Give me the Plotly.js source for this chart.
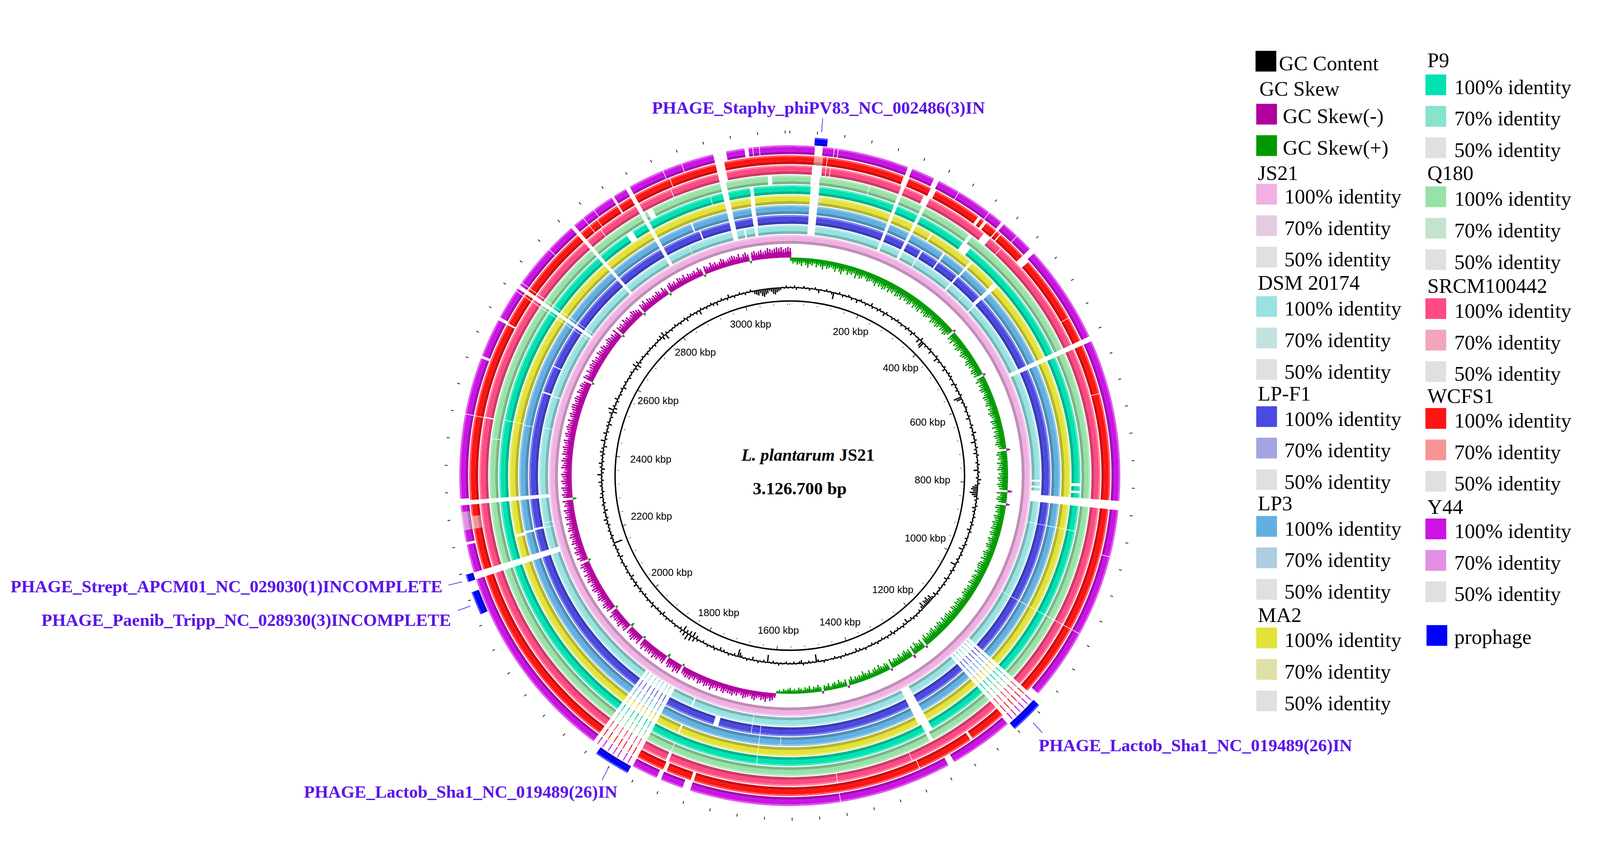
<!DOCTYPE html>
<html><head><meta charset="utf-8">
<script src="https://cdn.plot.ly/plotly-3.0.1.min.js"></script>
<style>html,body{margin:0;padding:0;background:#fff;overflow:hidden}</style>
</head><body><div id="chart"></div>
<script>
// ---------------- DATA ----------------
const GENOME_KBP = 3126.7;
const BIN_KBP = 5;

// GC skew per 5 kbp bin (+ = green, - = purple), relative units
const gcSkew = [
3,5,4,6,5,7,4,6,8,5,6,4,7,5,6,8,5,7,6,5,
6,8,5,7,9,6,5,8,6,7,5,9,6,8,7,5,6,8,7,6,
7,9,6,8,7,9,8,6,9,7,8,6,9,8,7,9,6,8,7,9,
8,6,9,7,8,9,6,8,7,9,8,7,6,9,8,7,9,8,6,8,
7,9,8,6,-2,8,7,9,6,8,7,9,8,6,7,9,8,7,6,8,
9,7,8,6,8,9,7,8,-2,7,9,6,8,7,9,8,6,7,9,8,
7,8,9,6,8,7,9,8,7,6,9,8,7,9,6,8,7,9,8,7,
8,9,7,6,-3,8,9,7,8,6,9,7,8,9,6,8,7,9,8,7,
9,8,7,-4,9,6,8,9,7,-3,8,9,7,8,6,9,8,7,9,8,
8,9,7,9,8,6,9,8,7,9,8,6,7,9,8,7,9,6,8,9,
9,8,7,9,6,8,9,7,8,9,6,8,7,9,8,9,7,6,8,9,
8,9,7,8,9,6,8,7,9,8,7,9,6,8,9,7,8,6,9,8,
7,8,6,9,7,-2,8,6,7,9,5,8,-3,7,6,8,7,5,8,6,
6,7,5,8,-2,6,7,5,6,8,5,7,6,4,7,5,6,8,5,6,
5,6,4,7,5,-2,6,4,5,7,4,6,5,3,6,4,5,-2,4,6,
4,5,3,6,4,5,3,4,5,3,4,3,5,4,3,4,2,3,2,-4,
-6,-7,-5,-8,-6,-7,-5,-6,-8,-7,-5,-6,-7,-8,-6,-5,-7,-6,-8,-7,
-7,-6,-8,-7,-5,-8,-6,-7,-9,-6,-7,-8,-6,-7,-8,-5,-7,-6,-8,-7,
-8,-7,-6,2,-8,-7,-9,-6,-7,-8,-6,3,-8,-7,-6,-8,-7,-9,-6,-8,
-7,-8,-6,-9,-7,2,-8,-6,-7,-9,-8,-6,-7,3,-8,-7,-6,-9,-8,-7,
-8,-7,-9,-6,2,-8,-7,-9,-8,-6,-7,-9,-8,-7,-6,-8,-9,-7,-8,-6,
-9,-8,-7,-9,-6,-8,-7,-9,-8,2,-7,-9,-6,-8,-9,-7,-8,-6,-9,-8,
-7,-9,-8,-6,-9,-8,-7,-9,-6,-8,-9,-7,-8,-9,-6,-8,-7,-9,3,-8,
-9,-7,-8,-9,-6,-8,-9,-7,-8,-9,-7,-6,-9,-8,-7,-9,-8,-6,-9,-8,
-8,-9,-7,-8,-9,-6,-8,-9,-7,-8,-9,-8,-7,-9,-6,-8,-9,-7,-8,-9,
-9,-7,-8,-9,-8,-6,-9,-8,-7,-9,-8,-7,2,-9,-8,-6,-9,-7,-8,-9,
-8,-9,-7,-8,-6,-9,-8,-7,-9,-8,-6,-7,-9,-8,-7,-8,-6,-9,2,-8,
-7,-8,-6,-9,-7,-8,-6,-7,-9,-8,-7,-6,2,-8,-7,-9,-6,-8,-7,-6,
-7,-6,-8,-7,-5,-8,-6,2,-7,-8,-6,-7,-5,-8,-7,-6,-8,-5,-7,-6,
-6,-7,-5,-8,-6,2,-7,-6,-5,-8,-6,-7,-5,-6,-8,-7,-5,-6,-7,-8,
-7,-6,-8,-5,-7,-8,-6,2,-7,-8,-6,-7,-8,-6,-7,-9,-8,-7,-8,-9,
-8,-9,-7,-8,-9,-8];

// GC content deviation per 5 kbp bin (+ outward, - inward), relative units
const gcContent = [
1,-1,2,-2,1,0,-1,2,-1,1,-2,1,0,2,-1,-3,1,0,-1,2,
-1,1,-2,-6,1,-1,2,0,-2,1,-1,2,1,-2,0,1,-3,1,2,-1,
1,-2,1,-1,3,-2,0,1,-2,2,-1,1,-3,2,-1,0,1,-2,1,-1,
2,-1,1,-2,0,1,-2,2,-1,1,-3,2,0,-1,1,-4,3,-5,-6,1,
-2,1,-1,2,-3,1,-1,0,2,-4,1,-2,1,0,-1,2,-3,1,-1,2,
-1,2,-2,1,0,-3,2,-1,1,-2,1,-1,2,-7,-5,1,-2,1,-1,2,
1,-2,1,-1,2,-3,1,0,-1,2,-2,1,-1,3,-2,1,-1,2,-4,1,
-1,2,-2,1,-3,2,-1,0,1,-2,2,-1,1,-4,2,-1,1,-2,3,-1,
2,-3,-5,-6,-4,-7,-5,-3,2,-2,1,-1,2,-3,1,-2,1,-1,2,-1,
1,-2,2,-1,1,-3,2,-1,0,1,-2,1,-1,2,-2,1,-4,1,-1,2,
-1,1,-2,2,-1,-5,1,-1,2,-2,1,-1,0,2,-3,1,-1,2,-1,1,
-2,1,-1,2,-3,1,-2,-5,-3,-6,-4,-5,-2,-6,-3,1,-2,1,-1,2,
-1,2,-2,1,-1,-4,1,-2,2,-1,1,-2,1,-1,2,-3,1,-1,2,-1,
1,-2,1,-1,2,-1,1,-2,1,-1,0,2,-1,1,-2,1,-3,1,-1,1,
-1,1,-2,1,-1,2,-1,1,-2,1,-1,0,1,-1,2,-1,1,-2,-7,1,
-1,1,-2,1,-1,2,-3,-2,-1,1,-2,1,-1,1,-2,-1,1,-1,2,-1,
1,-2,1,-1,-7,1,-2,1,-1,2,-1,1,-3,1,-1,2,-1,1,-2,-4,
-7,1,-2,1,-1,2,-1,1,-2,1,-3,1,-1,2,-2,1,-1,2,-1,1,
-2,1,-1,2,-3,4,-5,5,-4,6,-3,4,-5,3,-2,1,-1,2,-1,1,
-2,1,-1,2,-1,1,-3,2,-1,1,-2,1,-1,3,-2,1,-1,2,-1,1,
-2,1,-1,2,-2,1,-1,3,-2,1,-1,2,-3,1,-1,2,-1,1,-2,1,
-1,2,-1,1,-3,2,-1,1,-2,1,-1,2,-8,1,-1,2,-2,1,-1,2,
-1,1,-2,2,-1,3,-2,1,-1,2,-3,1,-1,2,-2,1,-1,3,-1,2,
-2,1,-1,2,-1,3,-2,1,-1,4,-2,1,-3,2,-1,3,-2,1,-1,2,
-2,3,-1,2,-3,1,-1,4,-2,1,-1,3,-2,1,-1,2,-3,2,-1,1,
-2,1,3,-4,5,-3,2,-1,1,-2,3,-1,1,-2,1,-1,2,-3,1,-1,
2,-1,1,-2,1,-1,2,-1,1,-3,4,-4,3,-2,1,-1,2,-1,1,-2,
1,-1,2,-1,1,-2,1,-1,2,-1,3,-3,4,-5,2,-1,1,-2,1,-1,
2,-1,1,-2,1,-1,2,-3,1,-1,2,-1,1,-2,1,-4,2,-1,1,-2,
1,-1,2,-2,1,-3,1,-1,2,-1,1,-2,3,-1,1,-2,1,-1,2,-1,
1,-2,1,-1,2,-1,-3,-4,-5,-3,-6,-7,-5,-4,-2,-3,-5,-6,-4,-3,
-2,1,-1,2,-1,1];

const tickLabelsKbp = [200,400,600,800,1000,1200,1400,1600,1800,2000,2200,2400,2600,2800,3000];

const ringNames = ['JS21','DSM 20174','LP-F1','LP3','MA2','P9','Q180','SRCM100442','WCFS1','Y44'];
const ringColors = ['#F0B0E4','#98E2E2','#4A4AE2','#62B0E2','#E2E23A','#00E2B0','#98E2A8','#FF4A82','#FF1414','#CC12E4'];
const ringLightColors = ['#E4CCE0','#C2E2E0','#A4A4E2','#AECCE2','#E0E0A6','#88E2CC','#C4E2CC','#F2A6BA','#F89494','#E090E2'];
const identity50Color = '#E0E0E0';

// regions (kbp) without hits, shared by the comparison genomes
const commonGaps = [[183,189],[227,233],[565,573],[820,834],[1030,1031],
 [1148,1154],[1155.5,1162],[1163.5,1170],[1171.5,1178],[1179.5,1186],[1187.5,1194],[1195.5,1202],
 [1810,1818],[1819.5,1826],[1827.5,1836],[1837.5,1844],[1845.5,1853],[1854.5,1863],[1864.5,1872],[1873.5,1880],
 [2186,2197],[2300,2307],[2640,2641],[2645,2651],[2655,2656],[2767,2773],[2868,2875],[3010,3020]];
const gapsJS21 = [];
const gapsDSM = [[36,51],[262,264],[345,349],[380,381],[410,413],[790,794],[802,806],[812,820],[877,878],[1308,1326],[1637,1638],[1762,1765],[2240,2241],[2250,2251],[2440,2441],[2505,2507],[2920,2921],[3035,3038],[3056,3062]];
const gapsLPF1 = [[36,51],[262,266],[300,303],[346,350],[405,412],[877,878],[1308,1326],[1620,1621],[1637,1638],[1702,1712],[2240,2244],[2506,2509],[2560,2562],[2950,2953],[3055,3064]];
const gapsLP3 = [[36,51],[300,304],[348,352],[406,414],[877,878],[1308,1326],[1580,1581],[1620,1621],[2238,2242],[2438,2439],[2940,2943],[3055,3063]];
const gapsMA2 = [[36,51],[262,265],[348,353],[405,414],[877,878],[1308,1326],[1620,1621],[1765,1768],[2235,2240],[2440,2441],[3056,3064]];
const gapsP9 = [[36,51],[318,334],[795,800],[808,812],[877,878],[1308,1322],[1620,1621],[2440,2441],[2830,2842],[2988,2989],[3058,3064]];
const gapsQ180 = [[35,50],[133,134],[318,324],[1316,1322],[1765,1766],[2406,2407],[2880,2890],[3090,3097]];
const gapsSRCM = [[36,52],[58,59],[65,66],[222,228],[336,349],[372,373],[1361,1362],[1486,1487],[1763,1768],[2438,2440],[2800,2801],[2930,2931],[3018,3024]];
const gapsWCFS1 = [[58,59],[181,190],[229,236],[313,318],[324,329],[348,350],[356,358],[405,418],[525,526],[652,653],[1261,1265],[1355,1356],[1715,1720],[1760,1766],[2438,2439],[2589,2592],[2790,2791],[2805,2806],[2843,2846],[2935,2936],[3018,3024]];
const gapsY44 = [[38,50],[67,68],[73,74],[182,185],[225,232],[267,268],[322,323],[346,351],[377,378],[405,414],[905,906],[1140,1152],[1199,1205],[1304,1314],[1486,1487],[1716,1728],[1763,1770],[2240,2244],[2306,2310],[2438,2439],[2526,2530],[2589,2594],[2720,2721],[2790,2791],[2810,2811],[2843,2847],[2930,2931],[2960,2961],[3020,3030],[3058,3064],[3070,3071],[3080,3081]];
// 70% identity stretches
const weakMA2 = [[52,58]];
const weakWCFS1 = [[38,52],[2262,2282]];
const weakY44 = [[2262,2290]];

const ringGaps = [gapsJS21,gapsDSM,gapsLPF1,gapsLP3,gapsMA2,gapsP9,gapsQ180,gapsSRCM,gapsWCFS1,gapsY44];
const ringWeak = [[],[],[],[],weakMA2,[],[],[],weakWCFS1,weakY44];

const prophageKbp = [[37,56],[1152,1202],[1812,1866],[2135,2170],[2186,2197]];
const prophageNames = ['PHAGE_Staphy_phiPV83_NC_002486(3)IN','PHAGE_Lactob_Sha1_NC_019489(26)IN','PHAGE_Lactob_Sha1_NC_019489(26)IN','PHAGE_Paenib_Tripp_NC_028930(3)INCOMPLETE','PHAGE_Strept_APCM01_NC_029030(1)INCOMPLETE'];

// ---------------- LAYOUT / DRAWING ----------------
const W=4473,H=2200,CX=2208,CY=1229,RMAX=970;
const VW=(document.documentElement.clientWidth||window.innerWidth||W);
const VH=(document.documentElement.clientHeight||window.innerHeight||H);
const S=Math.min(VW/W, VH/H);          // uniform scale: the design keeps its proportions
const OX=(VW-W*S)/2, OY=(VH-H*S)/2;    // centred in the viewport
const div=document.getElementById('chart'); div.style.width=VW+'px'; div.style.height=VH+'px';
const SERIF='Liberation Serif, Times New Roman, serif';
const SANS='Liberation Sans, Arial, sans-serif';
const degPerKbp = 360/GENOME_KBP;
const th = k => k*degPerKbp;
const px = x => (OX+x*S)/VW, py = y => 1-(OY+y*S)/VH;

function rgb(h){h=h.replace('#','');return [0,2,4].map(i=>parseInt(h.slice(i,i+2),16));}
function lighten(h,t){const c=rgb(h);return 'rgb('+c.map(v=>Math.round(v+(255-v)*t)).join(',')+')';}
function darken(h,f){const c=rgb(h);return 'rgb('+c.map(v=>Math.round(v*f)).join(',')+')';}

const traces=[];
function bars(list, base, thick, color){
  traces.push({type:'barpolar', theta:list.map(d=>th((d[0]+d[1])/2)), width:list.map(d=>th(d[1]-d[0])),
    base:list.map(()=>base), r:list.map(()=>thick), marker:{color:color, line:{width:0}}, hoverinfo:'skip', showlegend:false});
}
const FULL=[[0,GENOME_KBP/2+0.5],[GENOME_KBP/2-0.5,GENOME_KBP]];
function shaded(list, inner, thick, color){
  if(!list.length) return;
  bars(list, inner, thick*0.32, darken(color,0.8));
  bars(list, inner+thick*0.32, thick*0.5, color);
  bars(list, inner+thick*0.82, thick*0.18, lighten(color,0.3));
}
function polarBars(t,r,b,w,color){traces.push({type:'barpolar', theta:t, r:r, base:b, width:w, marker:{color:color,line:{width:0}}, hoverinfo:'skip', showlegend:false});}

// GC content
const binW = th(BIN_KBP);
(function(){
  const t=[],b=[],r=[];
  gcContent.forEach((v,i)=>{ if(v===0) return; const a=Math.abs(v)*3.0;
    t.push(th((i+0.5)*BIN_KBP)); r.push(a); b.push(v>0?526:526-a); });
  bars(FULL, 524.6, 3, '#000');
  polarBars(t, r, b, t.map(()=>binW*0.7), '#000');
})();
// GC skew: dense core + spikes, both from the same bin values
(function(){
  const U=3.3, base=610;
  [['#B2009E',v=>v<0],['#009A00',v=>v>0]].forEach(([col,test])=>{
    const t=[],rc=[],bc=[],rs=[],bs=[];
    gcSkew.forEach((v,i)=>{ if(!test(v)) return; const a=Math.abs(v)*U, c=a*0.6;
      t.push(th((i+0.5)*BIN_KBP));
      rc.push(c); bc.push(v<0?base:base-c);
      rs.push(a); bs.push(v<0?base:base-a); });
    polarBars(t, rc, bc, t.map(()=>binW*1.02), col);
    polarBars(t, rs, bs, t.map(()=>binW*0.65), col);
  });
})();

// backbone
bars(FULL, 486.5, 4, '#000');
const minorT=[]; for(let k=0;k<GENOME_KBP;k+=40) minorT.push([k-0.6,k+0.6]);
bars(minorT, 477, 4, '#000');
bars(tickLabelsKbp.map(k=>[k-0.8,k+0.8]), 478, 9, '#000');
// outer scale dashes
bars(minorT.map(d=>[d[0]+0.1,d[1]-0.1]), 957, 8, '#000');

// comparison rings
for(let i=0;i<ringNames.length;i++){
  const inner=648.5+27.85*i, thick=25;
  shaded(FULL, inner, thick, ringColors[i]);
  shaded(ringWeak[i], inner, thick, ringLightColors[i]);
  const g = (i===0?[]:commonGaps).concat(ringGaps[i]);
  if(g.length) bars(g, inner-1, thick+2, '#FFFFFF');
}
// prophages
shaded(prophageKbp, 926, 22, '#0000FF');

// tick labels
(function(){
  const rr=[],tt=[],tx=[];
  tickLabelsKbp.forEach(k=>{ const a=th(k)*Math.PI/180, s=Math.abs(Math.sin(a)), c=Math.abs(Math.cos(a));
    const w=28*(0.556*String(k).length+1.89);
    const d=Math.min(s>1e-6?(w/2)/s:1e9, c>1e-6?13/c:1e9);
    rr.push(449-d); tt.push(th(k)); tx.push(k+' kbp'); });
  traces.push({type:'scatterpolar', mode:'text', r:rr, theta:tt, text:tx, textposition:'middle center',
    textfont:{family:SANS,size:28*S,color:'#000'}, hoverinfo:'skip', showlegend:false, cliponaxis:false});
})();

const annotations=[], shapes=[];
function ann(x,y,text,size,opts){const o=Object.assign({xref:'paper',yref:'paper',x:px(x),y:py(y),text:text,showarrow:false,
  xanchor:'left',yanchor:'middle',font:{family:SERIF,size:size,color:'#000'}},opts||{}); o.font=Object.assign({},o.font,{size:size*S}); annotations.push(o);}
ann(2258,1172,'<b><i>L. plantarum</i> JS21</b>',48,{xanchor:'center'});
ann(2236,1265,'<b>3.126.700 bp</b>',49,{xanchor:'center'});

// prophage labels + leader lines
const PCOL='#5B14E8';
const labelPos=[[2288,200,'center'],[2902,1983,'left'],[847,2113,'left'],[1262,1633,'right'],[1240,1539,'right']];
const leaders=[[[2300,230],[2297,268]],[[2888,1920],[2914,1948]],[[1683,2081],[1699,2050]],[[1280,1606],[1315,1594]],[[1254,1535],[1292,1526]]];
prophageNames.forEach((n,i)=>{ ann(labelPos[i][0],labelPos[i][1],'<b>'+n+'</b>',49,{xanchor:labelPos[i][2],font:{family:SERIF,color:PCOL}});
  const L=leaders[i]; shapes.push({type:'line',xref:'paper',yref:'paper',x0:px(L[0][0]),y0:py(L[0][1]),x1:px(L[1][0]),y1:py(L[1][1]),line:{color:'#3A3AF0',width:2*S}}); });

// legend
function sq(x,y,color){ shapes.push({type:'rect',xref:'paper',yref:'paper',x0:px(x),x1:px(x+58),y0:py(y),y1:py(y+58),fillcolor:color,line:{width:0}});}
const LS=58;
sq(3510,41,'#000000'); ann(3573,76,'GC Content',LS);
ann(3519,147,'GC Skew',LS);
sq(3512,189,'#B2009E'); ann(3584,224,'GC Skew(-)',LS);
sq(3512,277,'#009A00'); ann(3584,312,'GC Skew(+)',LS);
function group(ri,hy,sy,xs,xt,xh){
  ann(xh,hy,ringNames[ri],LS);
  const cols=[ringColors[ri],ringLightColors[ri],identity50Color], labs=['100% identity','70% identity','50% identity'];
  for(let k=0;k<3;k++){ const y=sy+k*88; sq(xs,y,cols[k]); ann(xt,y+35,labs[k],LS); }
}
[[0,383,413],[1,689,727],[2,1000,1035],[3,1306,1342],[4,1619,1654]].forEach(g=>group(g[0],g[1],g[2],3512,3588,3514));
[[5,67,107],[6,383,420],[7,698,733],[8,1006,1040],[9,1316,1349]].forEach(g=>group(g[0],g[1],g[2],3985,4063,3988));
sq(3988,1647,'#0000FF'); ann(4064,1680,'prophage',LS);

// polar domain: centred at the design centre, radius RMAX*S pixels
const hx=RMAX*S/VW, hy=RMAX*S/VH, cxf=px(CX), cyf=py(CY);
const layout={width:VW,height:VH,margin:{l:0,r:0,t:0,b:0},paper_bgcolor:'#fff',plot_bgcolor:'#fff',showlegend:false,
  polar:{domain:{x:[Math.max(0,cxf-hx),Math.min(1,cxf+hx)],y:[Math.max(0,cyf-hy),Math.min(1,cyf+hy)]},bgcolor:'rgba(0,0,0,0)',barmode:'overlay',bargap:0,hole:0,
    radialaxis:{range:[0,RMAX],showgrid:false,showline:false,showticklabels:false,ticks:''},
    angularaxis:{rotation:90,direction:'clockwise',showgrid:false,showline:false,showticklabels:false,ticks:''}},
  annotations:annotations, shapes:shapes};
Plotly.newPlot('chart',traces,layout,{staticPlot:true,displayModeBar:false});
</script></body></html>
